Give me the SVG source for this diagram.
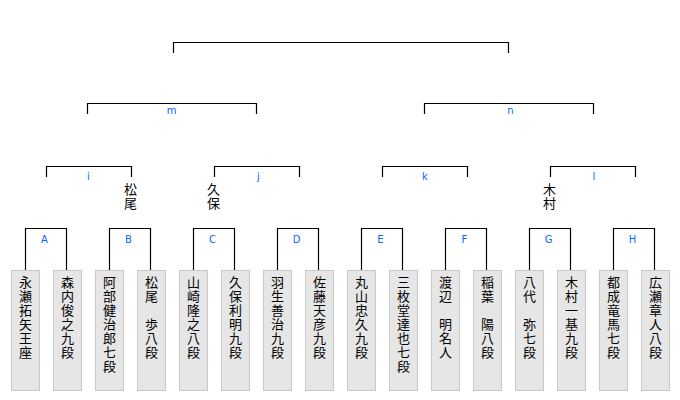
<svg xmlns="http://www.w3.org/2000/svg" width="680" height="400" viewBox="0 0 680 400">
<style>
.ln{fill:none;stroke:#000;stroke-width:1.2}
.box{fill:#e6e6e6;stroke:#c8c8c8;stroke-width:1}
.lbl{font-family:"DejaVu Sans","Liberation Sans",sans-serif;font-size:10px;fill:#0a64ff;text-anchor:middle}
.nm{font-family:"Noto Sans CJK JP","Noto Sans CJK SC",sans-serif;font-size:13px;fill:#000;writing-mode:vertical-rl;letter-spacing:1px}
</style>
<rect width="680" height="400" fill="#fff"/>
<g id="connectors">
<path class="ln" d="M173.5,53 V42.5 H508.5 V53"/>
<path class="ln" d="M87.5,114 V103.5 H256.5 V114"/>
<path class="ln" d="M424.5,114 V103.5 H593.5 V114"/>
<path class="ln" d="M46.5,177 V166.5 H131.5 V177"/>
<path class="ln" d="M214.5,177 V166.5 H299.5 V177"/>
<path class="ln" d="M382.5,177 V166.5 H467.5 V177"/>
<path class="ln" d="M550.5,177 V166.5 H635.5 V177"/>
<path class="ln" d="M25.5,270 V228.5 H66.5 V270"/>
<path class="ln" d="M109.5,270 V228.5 H150.5 V270"/>
<path class="ln" d="M193.5,270 V228.5 H234.5 V270"/>
<path class="ln" d="M277.5,270 V228.5 H318.5 V270"/>
<path class="ln" d="M361.5,270 V228.5 H402.5 V270"/>
<path class="ln" d="M445.5,270 V228.5 H486.5 V270"/>
<path class="ln" d="M529.5,270 V228.5 H570.5 V270"/>
<path class="ln" d="M613.5,270 V228.5 H654.5 V270"/>
</g>
<g id="labels">
<text class="lbl" x="171.5" y="114">m</text>
<text class="lbl" x="510.5" y="114">n</text>
<text class="lbl" x="88.5" y="180">i</text>
<text class="lbl" x="258.5" y="180">j</text>
<text class="lbl" x="425" y="180">k</text>
<text class="lbl" x="594" y="180">l</text>
<text class="lbl" x="44.5" y="243">A</text>
<text class="lbl" x="128.5" y="243">B</text>
<text class="lbl" x="212.5" y="243">C</text>
<text class="lbl" x="296.5" y="243">D</text>
<text class="lbl" x="380.5" y="243">E</text>
<text class="lbl" x="464.5" y="243">F</text>
<text class="lbl" x="548.5" y="243">G</text>
<text class="lbl" x="632.5" y="243">H</text>
<text class="nm" x="130.5" y="183">松尾</text>
<text class="nm" x="213.5" y="183">久保</text>
<text class="nm" x="549.5" y="183">木村</text>
</g>
<g id="p1"><rect class="box" x="11.5" y="270.5" width="28" height="120"/><text class="nm" x="25.5" y="276">永瀬拓矢王座</text></g>
<g id="p2"><rect class="box" x="53.5" y="270.5" width="28" height="120"/><text class="nm" x="67.5" y="276">森内俊之九段</text></g>
<g id="p3"><rect class="box" x="95.5" y="270.5" width="28" height="120"/><text class="nm" x="109.5" y="276">阿部健治郎七段</text></g>
<g id="p4"><rect class="box" x="137.5" y="270.5" width="28" height="120"/><text class="nm" x="151.5" y="276">松尾　歩八段</text></g>
<g id="p5"><rect class="box" x="179.5" y="270.5" width="28" height="120"/><text class="nm" x="193.5" y="276">山崎隆之八段</text></g>
<g id="p6"><rect class="box" x="221.5" y="270.5" width="28" height="120"/><text class="nm" x="235.5" y="276">久保利明九段</text></g>
<g id="p7"><rect class="box" x="263.5" y="270.5" width="28" height="120"/><text class="nm" x="277.5" y="276">羽生善治九段</text></g>
<g id="p8"><rect class="box" x="305.5" y="270.5" width="28" height="120"/><text class="nm" x="319.5" y="276">佐藤天彦九段</text></g>
<g id="p9"><rect class="box" x="347.5" y="270.5" width="28" height="120"/><text class="nm" x="361.5" y="276">丸山忠久九段</text></g>
<g id="p10"><rect class="box" x="389.5" y="270.5" width="28" height="120"/><text class="nm" x="403.5" y="276">三枚堂達也七段</text></g>
<g id="p11"><rect class="box" x="431.5" y="270.5" width="28" height="120"/><text class="nm" x="445.5" y="276">渡辺　明名人</text></g>
<g id="p12"><rect class="box" x="473.5" y="270.5" width="28" height="120"/><text class="nm" x="487.5" y="276">稲葉　陽八段</text></g>
<g id="p13"><rect class="box" x="515.5" y="270.5" width="28" height="120"/><text class="nm" x="529.5" y="276">八代　弥七段</text></g>
<g id="p14"><rect class="box" x="557.5" y="270.5" width="28" height="120"/><text class="nm" x="571.5" y="276">木村一基九段</text></g>
<g id="p15"><rect class="box" x="599.5" y="270.5" width="28" height="120"/><text class="nm" x="613.5" y="276">都成竜馬七段</text></g>
<g id="p16"><rect class="box" x="641.5" y="270.5" width="28" height="120"/><text class="nm" x="655.5" y="276">広瀬章人八段</text></g>
</svg>
